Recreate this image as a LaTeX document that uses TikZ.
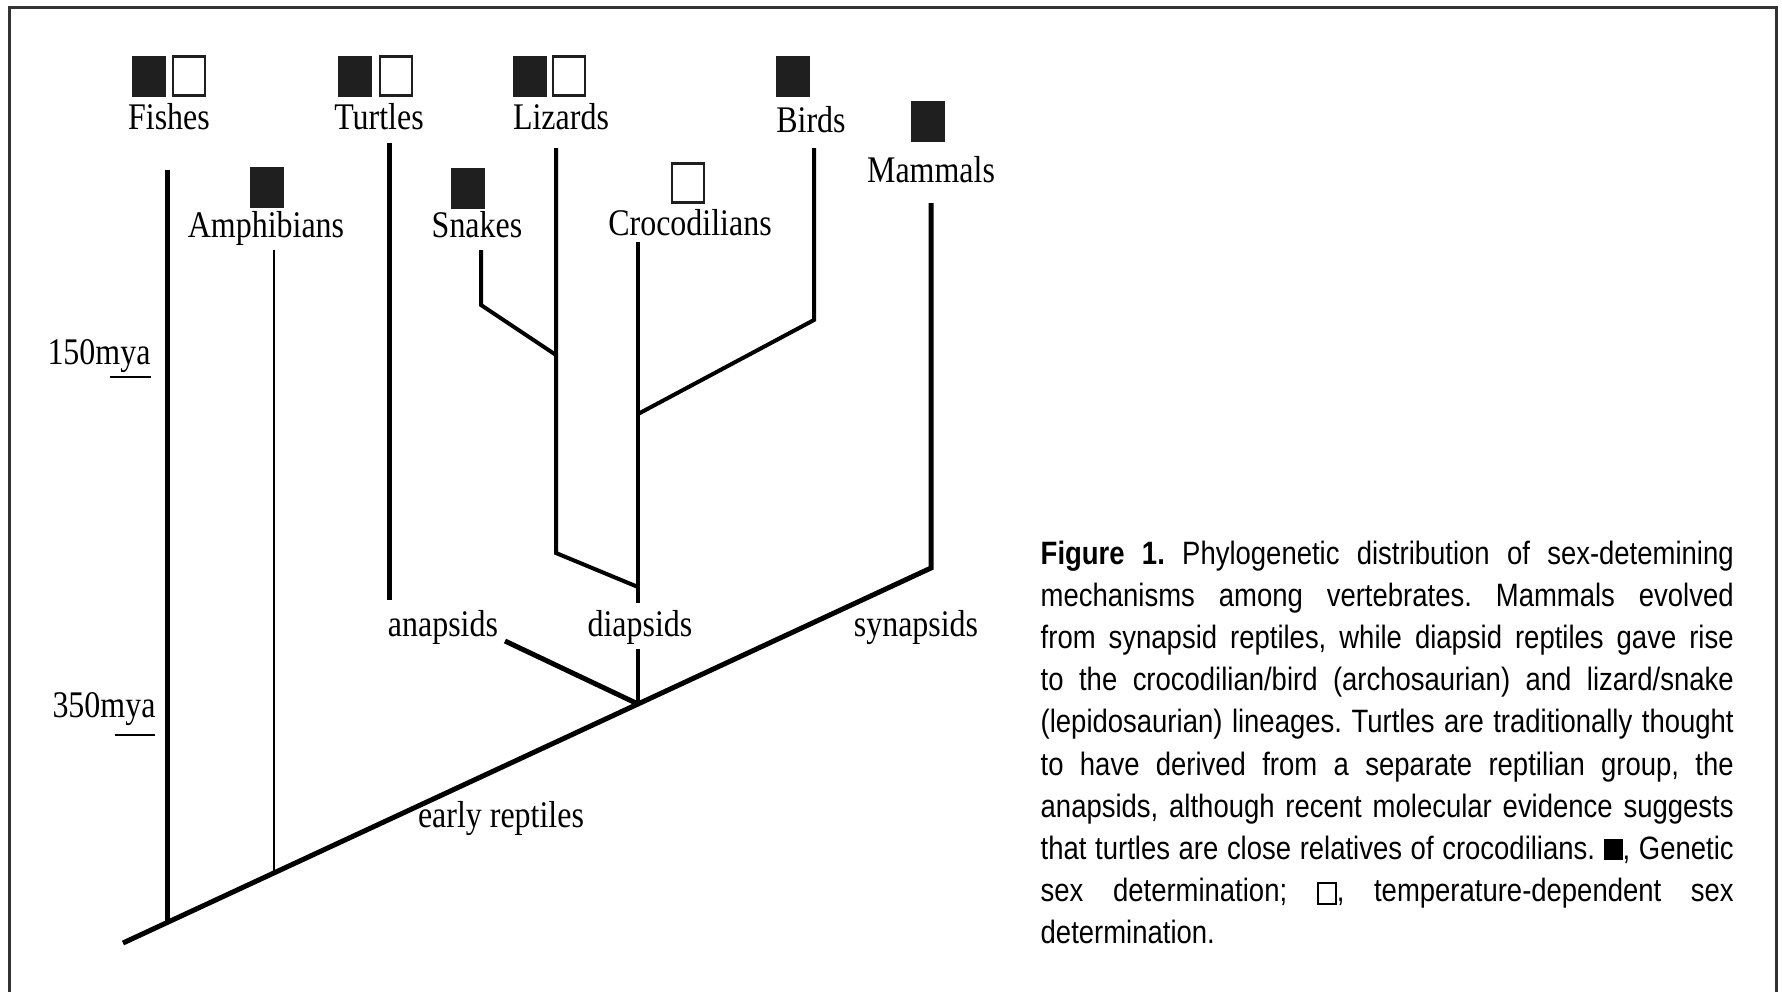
\documentclass[tikz,border=0pt]{standalone}
\usepackage{fontspec}
\setmainfont{Liberation Serif}
\newfontfamily\lblfont[FakeStretch=0.85]{Liberation Serif}
\newfontfamily\capfont[FakeStretch=0.85]{Liberation Sans}
\newcommand{\gsdmark}{\rule[-0.1mm]{1.9mm}{2.1mm}}
\newcommand{\tsdmark}{{\setlength{\fboxsep}{0pt}\setlength{\fboxrule}{0.2mm}\fbox{\rule[-0.1mm]{0pt}{1.9mm}\hspace{1.6mm}}}}
\newlength{\capw}
\setlength{\capw}{69.3mm}
\newcommand{\capline}[1]{\makebox[\capw][s]{#1}}
\frenchspacing

\begin{document}
\begin{tikzpicture}[x=0.1mm,y=-0.1mm,
  taxon/.style={font=\lblfont\fontsize{10.7}{12}\selectfont,inner sep=0pt,anchor=base},
  gsd/.style={fill=black!88,inner sep=0pt,minimum width=3.4mm,minimum height=4.1mm},
  tsd/.style={draw=black!88,line width=0.28mm,inner sep=0pt,minimum width=3.2mm,minimum height=3.9mm},
  lineage/.style={line width=0.4mm},
  thinlineage/.style={line width=0.28mm},
  thicklineage/.style={line width=0.5mm},
  caption/.style={font=\capfont\fontsize{9.2}{12}\selectfont,inner sep=0pt,align=left,anchor=north west}]
\useasboundingbox (0,0) rectangle (1782,992);

%cadre
\draw[line width=0.3mm,black!80] (9,992) -- (9,7) -- (1776,7) -- (1776,992);

%sex determination marks
\node[gsd] (fishg) at (149,76) {};
\node[tsd] (fisht) at (189,76) {};
\node[gsd] (turtg) at (355,76) {};
\node[tsd] (turtt) at (396,76) {};
\node[gsd] (lizg) at (530,76) {};
\node[tsd] (lizt) at (569,76) {};
\node[gsd] (birdg) at (793,76) {};
\node[gsd] (mamg) at (928,121) {};
\node[gsd] (amphg) at (267,187) {};
\node[gsd] (snakeg) at (468,188) {};
\node[tsd] (croct) at (688,183) {};

%taxa
\node[taxon] (fish) at (169,129) {Fishes};
\node[taxon] (turt) at (379,129) {Turtles};
\node[taxon] (liz) at (561,129) {Lizards};
\node[taxon] (bird) at (811,132) {Birds};
\node[taxon] (mam) at (931,182) {Mammals};
\node[taxon] (amph) at (266,237) {Amphibians};
\node[taxon] (snake) at (477,237) {Snakes};
\node[taxon] (croc) at (690,235) {Crocodilians};

%groups
\node[taxon] (anap) at (443,636) {anapsids};
\node[taxon] (diap) at (640,636) {diapsids};
\node[taxon] (synap) at (916,636) {synapsids};
\node[taxon] (early) at (501,827) {early reptiles};

%time scale
\node[taxon] (t150) at (99,364) {150mya};
\node[taxon] (t350) at (104,717) {350mya};
\coordinate (s150a) at (110,377);
\coordinate (s150b) at (151,377);
\coordinate (s350a) at (115,735);
\coordinate (s350b) at (155,735);
\draw[thinlineage] (s150a) -- (s150b);
\draw[thinlineage] (s350a) -- (s350b);

%branch points
\coordinate (root) at (123,943);
\coordinate (mambend) at (931,568);
\coordinate (fishtop) at (167,170);
\coordinate (fishbase) at (167,922.6);
\coordinate (amphtop) at (274,250);
\coordinate (amphbase) at (274,872.9);
\coordinate (turttop) at (389,143);
\coordinate (turtend) at (389,600);
\coordinate (anapend) at (505,641);
\coordinate (reptnode) at (638,704);
\coordinate (diapend) at (638,649);
\coordinate (croctop) at (638,242);
\coordinate (crocend) at (638,603);
\coordinate (liztop) at (556,148);
\coordinate (lizbend) at (556,553);
\coordinate (lizjoin) at (638,587);
\coordinate (snaketop) at (481,250);
\coordinate (snakebend) at (481,305);
\coordinate (snakejoin) at (556,355);
\coordinate (birdtop) at (814,148);
\coordinate (birdbend) at (814,320);
\coordinate (birdjoin) at (638,414);
\coordinate (mamtop) at (931,203);

%tree
\draw[thicklineage] (root) -- (mambend) -- (mamtop);
\draw[thicklineage] (fishtop) -- (fishbase);
\draw[thinlineage] (amphtop) -- (amphbase);
\draw[thicklineage] (turttop) -- (turtend);
\draw[thicklineage] (anapend) -- (reptnode);
\draw[lineage] (diapend) -- (reptnode);
\draw[lineage] (croctop) -- (crocend);
\draw[lineage] (liztop) -- (lizbend) -- (lizjoin);
\draw[lineage] (snaketop) -- (snakebend) -- (snakejoin);
\draw[lineage] (birdtop) -- (birdbend) -- (birdjoin);

%legende
\node[caption] (legend) at (1040,540) {%
\capline{\textbf{Figure 1.}\ Phylogenetic distribution of sex-detemining}\\
\capline{mechanisms among vertebrates. Mammals evolved}\\
\capline{from synapsid reptiles, while diapsid reptiles gave rise}\\
\capline{to the crocodilian/bird (archosaurian) and lizard/snake}\\
\capline{(lepidosaurian) lineages. Turtles are traditionally thought}\\
\capline{to have derived from a separate reptilian group, the}\\
\capline{anapsids, although recent molecular evidence suggests}\\
\capline{that turtles are close relatives of crocodilians. \gsdmark, Genetic}\\
\capline{sex determination; \tsdmark, temperature-dependent sex}\\
determination.};
\end{tikzpicture}
\end{document}
